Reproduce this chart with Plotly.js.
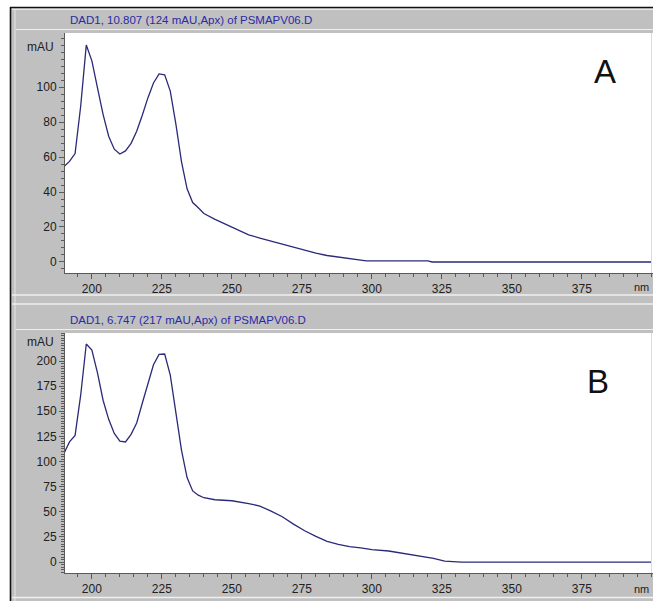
<!DOCTYPE html>
<html>
<head>
<meta charset="utf-8">
<script src="https://cdn.plot.ly/plotly-3.0.1.min.js"></script>
<style>
  html, body { margin: 0; padding: 0; background: #ffffff; }
  #chart { width: 653px; height: 601px; }
</style>
</head>
<body>
<div id="chart"></div>
<script>
// DAD UV spectra (signal in mAU vs wavelength in nm)
const titleA = "DAD1, 10.807 (124 mAU,Apx) of PSMAPV06.D";
const titleB = "DAD1, 6.747 (217 mAU,Apx) of PSMAPV06.D";

const wavelengthA = [190,192,194,196,198,200,202,204,206,208,210,212,214,216,218,220,222,224,226,228,230,232,234,236,238,240,244,248,252,256,260,264,268,272,276,280,284,288,292,296,298,320,321.5,400];
const absorbanceA = [54.5,57.5,62,89,124,115,99.5,84.4,71.9,64.5,61.7,63.5,67.8,74.7,83.9,93.8,102.3,107.5,107,97.7,78.8,57.4,41.8,34,31,27.7,24.4,21.3,18.3,15.5,13.7,12,10.1,8.3,6.6,5,3.7,2.9,2,1,0.6,0.6,0,0];

const wavelengthB = [190,192,194,196,198,200,202,204,206,208,210,212,214,216,218,220,222,224,226,228,230,232,234,236,238,240,244,250,256,260,264,268,272,276,280,284,288,292,296,300,306,310,314,318,322,326,330,332,400];
const absorbanceB = [108,119.5,126,166,217,211,188.3,161,142,128,120.3,119.5,127,138.4,158,177.8,196.3,206.6,207,186,150,111.4,84,70.8,66.5,64,62,61,58.2,55.7,50.7,45.1,37.7,31.1,25.5,20.5,17.6,15.3,14,12.4,11,9.3,7.4,5.5,3.6,0.9,0.3,0,0];

const xTicks = [200,225,250,275,300,325,350,375];
const yTicksA = [0,20,40,60,80,100];
const yTicksB = [0,25,50,75,100,125,150,175,200];
const panelLabels = ["A", "B"];
const xUnit = "nm";
const yUnit = "mAU";

const W = 653, H = 601;
const px = v => v / W;
const py = v => 1 - v / H;

const lineColor = "#2a2a78";
const axisColor = "#5a5a5a";
const tickFont = { family: "Liberation Sans, Arial, sans-serif", size: 12, color: "#202020" };

const traces = [
  { x: wavelengthA, y: absorbanceA, xaxis: "x", yaxis: "y", type: "scatter", mode: "lines",
    line: { color: lineColor, width: 1.3 }, hoverinfo: "x+y" },
  { x: wavelengthB, y: absorbanceB, xaxis: "x2", yaxis: "y2", type: "scatter", mode: "lines",
    line: { color: lineColor, width: 1.3 }, hoverinfo: "x+y" }
];

function xAxis(anchor) {
  return {
    domain: [px(65), 1], range: [190.4, 400.4], anchor: anchor,
    showline: true, linecolor: axisColor, linewidth: 1,
    ticks: "outside", ticklen: 5, tickcolor: axisColor, tickwidth: 1,
    tickmode: "array", tickvals: xTicks, ticktext: xTicks.map(String),
    tickfont: tickFont, showgrid: false, zeroline: false, fixedrange: true,
    minor: { dtick: 5, tick0: 0, ticks: "outside", ticklen: 3, tickcolor: axisColor, showgrid: false }
  };
}
function yAxis(anchor, top, bottom, range, vals, minorStep) {
  return {
    domain: [py(bottom), py(top)], range: range, anchor: anchor,
    showline: true, linecolor: axisColor, linewidth: 1,
    ticks: "outside", ticklen: 5, tickcolor: axisColor, tickwidth: 1,
    tickmode: "array", tickvals: vals, ticktext: vals.map(String),
    tickfont: tickFont, showgrid: false, zeroline: false, fixedrange: true,
    minor: { dtick: minorStep, tick0: 0, ticks: "outside", ticklen: 3, tickcolor: axisColor, showgrid: false }
  };
}

function hline(y, x0, x1, color, width) {
  return { type: "line", xref: "paper", yref: "paper", x0: px(x0), x1: px(x1), y0: py(y), y1: py(y),
           line: { color: color, width: width } };
}
function vline(x, y0, y1, color, width) {
  return { type: "line", xref: "paper", yref: "paper", x0: px(x), x1: px(x), y0: py(y0), y1: py(y1),
           line: { color: color, width: width } };
}
function rect(x0, y0, x1, y1, fill) {
  return { type: "rect", xref: "paper", yref: "paper", x0: px(x0), x1: px(x1), y0: py(y1), y1: py(y0),
           fillcolor: fill, line: { width: 0 }, layer: "below" };
}

const shapes = [
  // white surround at top and left
  rect(0, 0, W, 7, "#ffffff"),
  rect(0, 0, 10, H, "#ffffff"),
  // dark window border
  hline(7.5, 10, W, "#111111", 1.6),
  vline(10.5, 7, H, "#111111", 1.6),
  // bevel highlights of the window frames
  hline(9.3, 12, W, "#f2f2f2", 1),
  vline(15, 9, H, "#e4e4e4", 1),
  hline(29.5, 16, W, "#f0f0f0", 1),
  hline(295, 12, W, "#f0f0f0", 1.5),
  hline(304, 12, W, "#f0f0f0", 1.5),
  hline(329.5, 16, W, "#f0f0f0", 1),
  hline(597.5, 12, W, "#f0f0f0", 1.5),
  vline(651.5, 33, 273, "#dcdcdc", 1),
  vline(651.5, 333, 573, "#dcdcdc", 1)
];

const annotations = [];
function txt(text, x, y, anchor, font) {
  annotations.push({ text: text, xref: "paper", yref: "paper", x: px(x), y: py(y),
                     xanchor: anchor, yanchor: "middle", showarrow: false, font: font });
}
const titleFont = { family: "Liberation Sans, Arial, sans-serif", size: 11.5, color: "#2a2aa8" };
txt(titleA, 68, 20, "left", titleFont);
txt(titleB, 68, 320, "left", titleFont);
txt(yUnit, 56, 47, "right", tickFont);
txt(yUnit, 56, 342, "right", tickFont);
const unitFont = { family: "Liberation Sans, Arial, sans-serif", size: 11, color: "#202020" };
txt(xUnit, 651, 287, "right", unitFont);
txt(xUnit, 651, 589, "right", unitFont);
const bigFont = { family: "Liberation Sans, Arial, sans-serif", size: 33, color: "#111111" };
txt(panelLabels[0], 605, 71, "center", bigFont);
txt(panelLabels[1], 598, 381, "center", bigFont);

const layout = {
  width: W, height: H, autosize: false,
  margin: { l: 0, r: 0, t: 0, b: 0, pad: 0 },
  paper_bgcolor: "#c0c0c0", plot_bgcolor: "#ffffff",
  showlegend: false,
  xaxis: xAxis("y"),
  yaxis: yAxis("x", 33, 273, [-6.3, 130.9], yTicksA, 4),
  xaxis2: xAxis("y2"),
  yaxis2: yAxis("x2", 333, 573, [-10.9, 227.9], yTicksB, 2.5),
  shapes: shapes,
  annotations: annotations
};

Plotly.newPlot("chart", traces, layout, { displayModeBar: false, staticPlot: true });
</script>
</body>
</html>
